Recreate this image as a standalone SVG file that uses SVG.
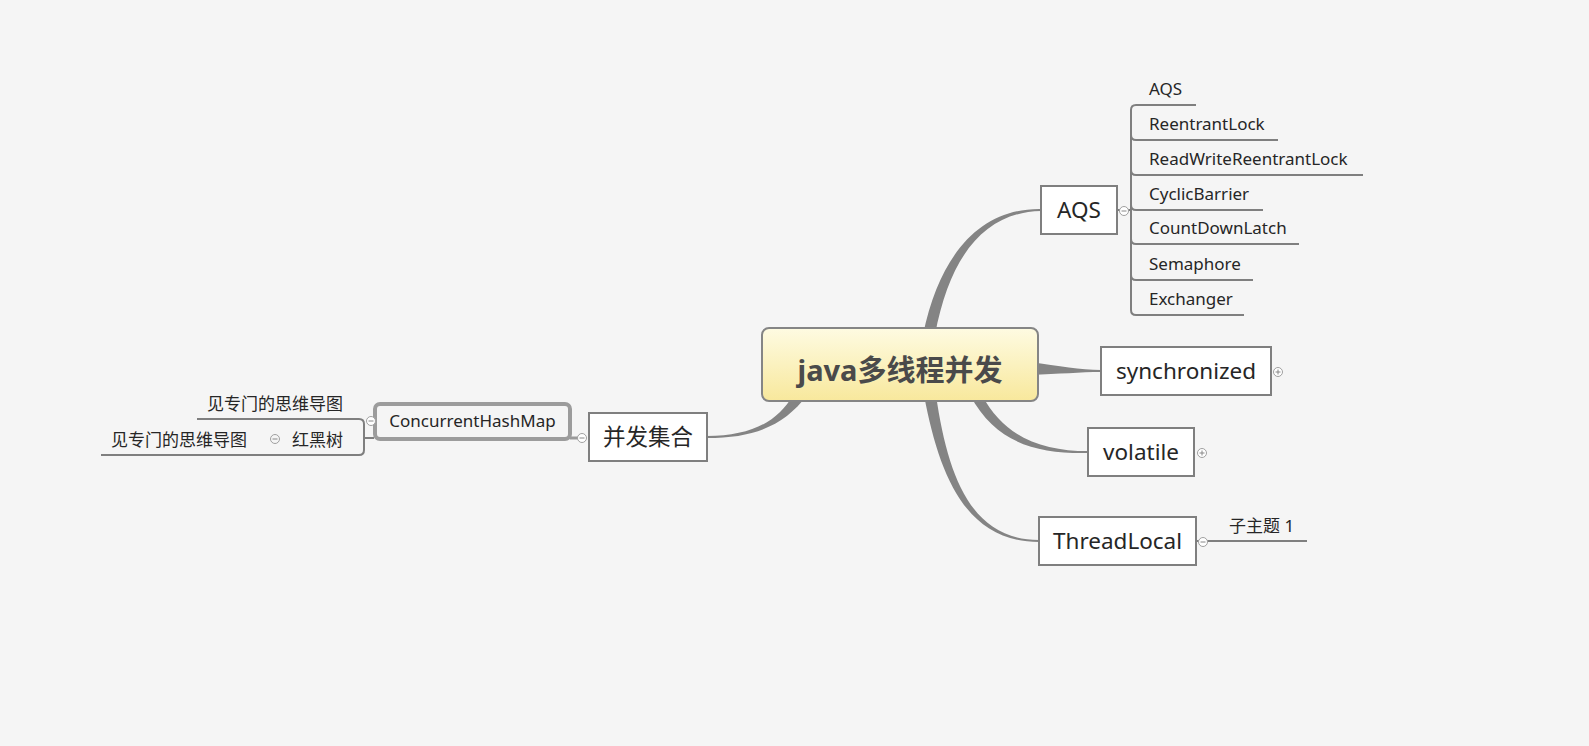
<svg xmlns="http://www.w3.org/2000/svg" width="1589" height="746" viewBox="0 0 1589 746">
<defs>
<linearGradient id="cg" x1="0" y1="0" x2="0" y2="1">
<stop offset="0" stop-color="#fefbe2"/>
<stop offset="1" stop-color="#f8e89c"/>
</linearGradient>
<style>
.bg{fill:#f5f5f5}
.box{fill:#ffffff;stroke:#7f7f7f;stroke-width:2}
.t{font-family:"Noto Sans","Noto Sans CJK SC",sans-serif;fill:#262626}
.big{font-size:22.5px;text-anchor:middle}
.leaf{font-size:17px}
.br{fill:#848484}
.ln{fill:none;stroke:#7f7f7f;stroke-width:2}
.cir{fill:#ffffff;stroke:#a0a0a0;stroke-width:1}
.sg{stroke:#888;stroke-width:1;fill:none}
</style>
</defs>
<rect class="bg" x="0" y="0" width="1589" height="746"/>

<g id="connectors">
<path class="br" d="M 923,335 C 940,252 982,208 1041,209 L 1041,211 C 986,212 950,254 935,335 Z"/>
<path class="br" d="M 1030,362 C 1060,366 1080,370 1101,370 L 1101,372 C 1080,372 1060,374 1030,375 Z"/>
<path class="br" d="M 982,395 C 1004,437 1042,451 1088,451 L 1088,453 C 1038,454 996,444 970,395 Z"/>
<path class="br" d="M 924,395 C 940,480 968,542 1039,542 L 1039,540 C 972,540 948,478 936,395 Z"/>
<path class="br" d="M 807,395 C 785,425 755,438 707,438 L 707,436 C 750,436 778,422 793,395 Z"/>
<!-- AQS children bracket -->
<path class="ln" d="M 1117,210 L 1131,210"/>
<path class="ln" d="M 1131,110 L 1131,310"/>
<path class="ln" d="M 1131,110 Q 1131,105 1136,105 L 1196,105"/>
<path class="ln" d="M 1131,135 Q 1131,140 1136,140 L 1278,140"/>
<path class="ln" d="M 1131,170 Q 1131,175 1136,175 L 1363,175"/>
<path class="ln" d="M 1131,205 Q 1131,210 1136,210 L 1263,210"/>
<path class="ln" d="M 1131,239 Q 1131,244 1136,244 L 1299,244"/>
<path class="ln" d="M 1131,275 Q 1131,280 1136,280 L 1253,280"/>
<path class="ln" d="M 1131,310 Q 1131,315 1136,315 L 1244,315"/>
<!-- ThreadLocal child -->
<path class="ln" d="M 1196,541 L 1307,541"/>
<!-- 并发集合 to ConcurrentHashMap -->
<path d="M 570,438 L 582,438" stroke="#9a9a9a" stroke-width="3" fill="none"/>
<!-- ConcurrentHashMap children -->
<path class="ln" d="M 197,419 L 359,419 Q 364,419 364,424 L 364,450 Q 364,455 359,455 L 101,455"/>
<path class="ln" d="M 364,438 L 374,438"/>
</g>

<g id="central">
<rect x="762" y="328" width="276" height="73" rx="7" fill="url(#cg)" stroke="#858585" stroke-width="2"/>
<text class="t" x="900" y="381" font-size="29" font-weight="bold" text-anchor="middle" style="fill:#4a4a4a">java多线程并发</text>
</g>

<g id="aqs">
<rect class="box" x="1041" y="186" width="76" height="48"/>
<text class="t big" x="1079" y="218">AQS</text>
<circle class="cir" cx="1124" cy="211" r="4.5"/>
<path class="sg" d="M 1121.5,211 L 1126.5,211"/>
</g>
<g id="aqs-children">
<text class="t leaf" x="1149" y="95">AQS</text>
<text class="t leaf" x="1149" y="130">ReentrantLock</text>
<text class="t leaf" x="1149" y="165">ReadWriteReentrantLock</text>
<text class="t leaf" x="1149" y="200">CyclicBarrier</text>
<text class="t leaf" x="1149" y="234">CountDownLatch</text>
<text class="t leaf" x="1149" y="270">Semaphore</text>
<text class="t leaf" x="1149" y="305">Exchanger</text>
</g>

<g id="synchronized">
<rect class="box" x="1101" y="347" width="170" height="48"/>
<text class="t big" x="1186" y="379">synchronized</text>
<circle class="cir" cx="1278" cy="372" r="4.5"/>
<path class="sg" d="M 1275.5,372 L 1280.5,372 M 1278,369.5 L 1278,374.5"/>
</g>

<g id="volatile">
<rect class="box" x="1088" y="428" width="106" height="48"/>
<text class="t big" x="1141" y="460">volatile</text>
<circle class="cir" cx="1202" cy="453" r="4.5"/>
<path class="sg" d="M 1199.5,453 L 1204.5,453 M 1202,450.5 L 1202,455.5"/>
</g>

<g id="threadlocal">
<rect class="box" x="1039" y="517" width="157" height="48"/>
<text class="t big" x="1117.5" y="549">ThreadLocal</text>
<circle class="cir" cx="1203" cy="542" r="4.5"/>
<path class="sg" d="M 1200.5,542 L 1205.5,542"/>
</g>
<g id="threadlocal-child">
<text class="t leaf" x="1229" y="532">子主题 1</text>
</g>

<g id="bingfa">
<rect class="box" x="589" y="413" width="118" height="48"/>
<text class="t big" x="648" y="445">并发集合</text>
<circle class="cir" cx="582" cy="438" r="4.5"/>
<path class="sg" d="M 579.5,438 L 584.5,438"/>
</g>

<g id="chm">
<rect x="375" y="404" width="195" height="35" rx="5" fill="#f5f5f5" stroke="#9c9c9c" stroke-width="4"/>
<text class="t leaf" x="472.5" y="427" text-anchor="middle">ConcurrentHashMap</text>
<circle class="cir" cx="371" cy="421" r="4.5"/>
<path class="sg" d="M 368.5,421 L 373.5,421"/>
</g>

<g id="chm-child1">
<text class="t leaf" x="343" y="410" text-anchor="end">见专门的思维导图</text>
</g>
<g id="hongheishu">
<text class="t leaf" x="343" y="446" text-anchor="end">红黑树</text>
<circle class="cir" cx="275" cy="439" r="4.5" style="fill:none"/>
<path class="sg" d="M 272.5,439 L 277.5,439"/>
</g>
<g id="hongheishu-child">
<text class="t leaf" x="247" y="446" text-anchor="end">见专门的思维导图</text>
</g>
</svg>
